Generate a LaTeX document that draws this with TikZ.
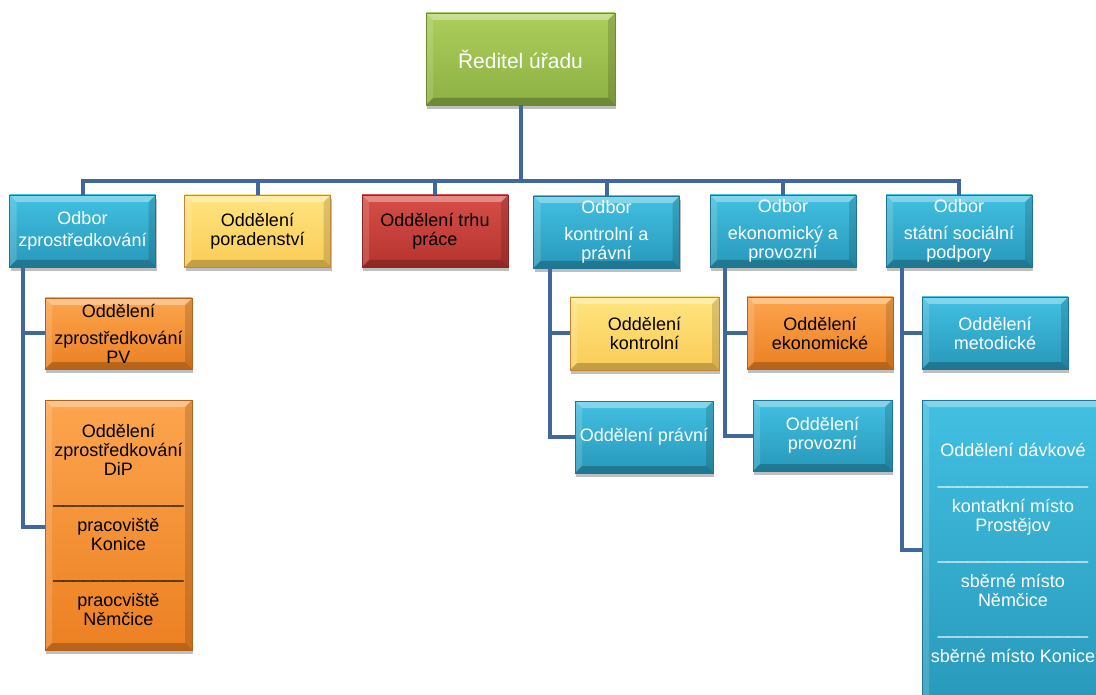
\documentclass[tikz,border=0pt]{standalone}
\usepackage{fontspec}
\setmainfont{Liberation Sans}
\usetikzlibrary{shadows}
\definecolor{connc}{RGB}{64,104,156}
\definecolor{tealT}{RGB}{66,192,226}
\definecolor{tealB}{RGB}{40,152,186}
\definecolor{tealD}{RGB}{30,118,148}
\definecolor{yelT}{RGB}{255,228,128}
\definecolor{yelB}{RGB}{250,204,86}
\definecolor{yelD}{RGB}{196,132,58}
\definecolor{orT}{RGB}{252,165,78}
\definecolor{orB}{RGB}{236,128,34}
\definecolor{orD}{RGB}{180,96,30}
\definecolor{redT}{RGB}{214,78,72}
\definecolor{redB}{RGB}{182,52,46}
\definecolor{redD}{RGB}{140,40,36}
\definecolor{grT}{RGB}{172,206,92}
\definecolor{grB}{RGB}{140,176,66}
\definecolor{grD}{RGB}{110,140,50}
\newcommand\bevw{7pt}
\newcommand\ul[1]{\foreach \i in {1,...,#1}{\_}}
\tikzset{
  bevel/.style={path picture={
    \path (path picture bounding box.north west) coordinate (pNW)
          (path picture bounding box.north east) coordinate (pNE)
          (path picture bounding box.south west) coordinate (pSW)
          (path picture bounding box.south east) coordinate (pSE);
    \fill[white,opacity=.35] (pNW) -- (pNE) -- ([shift={(-\bevw,-\bevw)}]pNE) -- ([shift={(\bevw,-\bevw)}]pNW) -- cycle;
    \fill[white,opacity=.15] (pNW) -- ([shift={(\bevw,-\bevw)}]pNW) -- ([shift={(\bevw,\bevw)}]pSW) -- (pSW) -- cycle;
    \fill[black,opacity=.22] (pSW) -- ([shift={(\bevw,\bevw)}]pSW) -- ([shift={(-\bevw,\bevw)}]pSE) -- (pSE) -- cycle;
    \fill[black,opacity=.14] (pNE) -- (pSE) -- ([shift={(-\bevw,\bevw)}]pSE) -- ([shift={(-\bevw,-\bevw)}]pNE) -- cycle;
  }},
  box/.style={rectangle, inner sep=0pt, align=center,
    font=\fontsize{18}{19}\selectfont,
    drop shadow={shadow xshift=1pt,shadow yshift=-4pt,opacity=0.25,fill=black},
    bevel, line width=0.6pt},
  tealbox/.style={box, top color=tealT, bottom color=tealB, draw=tealD, text=white},
  yelbox/.style={box, top color=yelT, bottom color=yelB, draw=yelD, text=black},
  orbox/.style={box, top color=orT, bottom color=orB, draw=orD, text=black},
  redbox/.style={box, top color=redT, bottom color=redB, draw=redD, text=black},
  grbox/.style={box, top color=grT, bottom color=grB, draw=grD, text=white},
  lvl/.style={minimum width=146pt, minimum height=72pt},
  conn/.style={draw=connc, line width=4pt, line join=miter},
}
\begin{document}
\begin{tikzpicture}[x=1pt,y=-1pt]
\useasboundingbox (0,0) rectangle (1096,695);
\clip (0,0) rectangle (1096,695);
\coordinate (bus) at (0,181);
% top
\node[grbox, minimum width=189pt, minimum height=92pt, font=\fontsize{21}{24}\selectfont] (dir) at (520.5,59) {Ředitel úřadu};
% level 1
\node[tealbox, lvl] (oz) at (82.5,231) {Odbor\\[3pt]zprostředkování};
\node[yelbox, lvl] (op) at (257.5,231) {Oddělení\\poradenství};
\node[redbox, lvl] (otp) at (435,231) {Oddělení trhu\\práce};
\node[tealbox, lvl] (okp) at (606.5,232) {Odbor\\[8pt]kontrolní a\\právní};
\node[tealbox, lvl] (oep) at (783,231) {Odbor\\[8pt]ekonomický a\\provozní};
\node[tealbox, lvl] (ossp) at (959,231) {Odbor\\[8pt]státní sociální\\podpory};
% level 2
\node[orbox, minimum width=147pt, minimum height=71pt] (pv) at (118.5,333.5) {Oddělení\\[8pt]zprostředkování\\PV};
\node[orbox, minimum width=147pt, minimum height=250pt] (dip) at (118.5,525)
  {Oddělení\\zprostředkování\\DiP\\[9pt]\ul{13}\\[9pt]pracoviště\\Konice\\[9pt]\ul{13}\\[9pt]praocviště\\Němčice};
\node[yelbox, minimum width=149pt, minimum height=73pt] (kon) at (644.5,333.5) {Oddělení\\kontrolní};
\node[tealbox, minimum width=138pt, minimum height=72pt] (pra) at (644,437) {Oddělení právní};
\node[orbox, lvl] (eko) at (820,333) {Oddělení\\ekonomické};
\node[tealbox, minimum width=139pt, minimum height=71pt] (pro) at (822.5,435.5) {Oddělení\\provozní};
\node[tealbox, lvl] (met) at (995,333) {Oddělení\\metodické};
\node[tealbox, minimum width=188pt, minimum height=312pt] (dav) at (1016,556)
  {\hspace*{-6pt}\begin{tabular}{@{}c@{}}Oddělení dávkové\\[9pt]\ul{15}\\[9pt]kontatkní místo\\Prostějov\\[9pt]\ul{15}\\[9pt]sběrné místo\\Němčice\\[9pt]\ul{15}\\[9pt]sběrné místo Konice\end{tabular}};
% connectors
\draw[conn] (dir.south) -- (dir.south |- bus) -| (oz.north);
\draw[conn] (dir.south |- bus) -| (op.north);
\draw[conn] (dir.south |- bus) -| (otp.north);
\draw[conn] (dir.south |- bus) -| (okp.north);
\draw[conn] (dir.south |- bus) -| (oep.north);
\draw[conn] (dir.south |- bus) -| (ossp.north);
\draw[conn] ([xshift=13.5pt]oz.south west) |- (pv.west);
\draw[conn] ([xshift=13.5pt]oz.south west) |- ([yshift=-2pt]dip.west);
\draw[conn] ([xshift=16.5pt]okp.south west) |- (kon.west);
\draw[conn] ([xshift=16.5pt]okp.south west) |- (pra.west);
\draw[conn] ([xshift=15pt]oep.south west) |- (eko.west);
\draw[conn] ([xshift=15pt]oep.south west) |- (pro.west);
\draw[conn] ([xshift=16pt]ossp.south west) |- (met.west);
\draw[conn] ([xshift=16pt]ossp.south west) |- ([yshift=6pt]dav.west);
\end{tikzpicture}
\end{document}
